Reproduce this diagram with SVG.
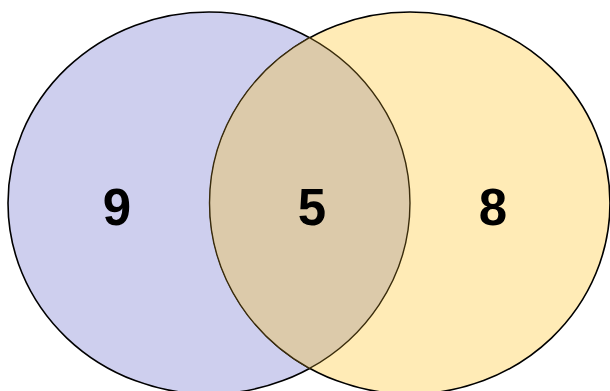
<svg xmlns="http://www.w3.org/2000/svg" width="610" height="391" viewBox="0 0 610 391">
<style>
.lbl{font-family:"Liberation Sans",Arial,sans-serif;font-weight:bold;font-size:51px;fill:#000;text-anchor:middle}
.outer{stroke:#000;stroke-width:1.6}
</style>
<rect width="610" height="391" fill="#fff"/>
<g id="setA"><ellipse class="outer" cx="209" cy="203" rx="201" ry="191" fill="#CECFEE"/></g>
<g id="setB"><ellipse class="outer" cx="410" cy="203" rx="200" ry="191" fill="#FFEBB6"/></g>
<g id="overlap"><path d="M309.5,37.6 A201,191 0 0 1 309.5,368.4 A200,191 0 0 1 309.5,37.6 Z" fill="#DCCAAA" stroke="#3A2C0C" stroke-width="1.4"/></g>
<g id="labels">
<text class="lbl" x="117" y="225">9</text>
<text class="lbl" x="312" y="225">5</text>
<text class="lbl" x="493" y="225">8</text>
</g>
</svg>
